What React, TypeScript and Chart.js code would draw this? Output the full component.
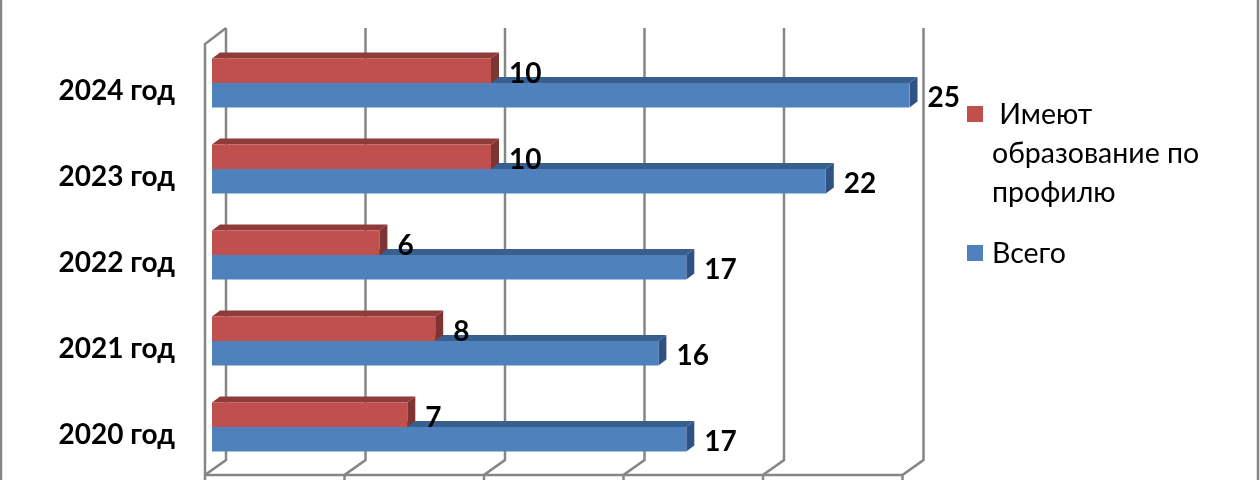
import { Chart, registerables, type Plugin } from 'chart.js';
import { useEffect, useRef } from 'react';

Chart.register(...registerables);

const years = ['2024 год', '2023 год', '2022 год', '2021 год', '2020 год'];
const profileValues = [10, 10, 6, 8, 7];
const totalValues = [25, 22, 17, 16, 17];
const profileLines = [' Имеют', 'образование по', 'профилю'];
const totalLabel = 'Всего';

const FONT = 'Lato, "Open Sans", sans-serif';
const GRID = '#868686';
const faces = [
  { front: '#C0504D', top: '#8F3B39', side: '#7E3432' },
  { front: '#4F81BD', top: '#37608F', side: '#2F5285' },
];

// bars are extruded by this much, walls sit either side of the bar start
const DEPTH_X = 8;
const DEPTH_Y = 6;
const WALL_FRONT = -7;
const WALL_BACK = 14;
const WALL_TOP = 28;
const WALL_BOTTOM = 460;
const FLOOR = 475;

const wallPlugin: Plugin = {
  id: 'wall',
  beforeDatasetsDraw(c) {
    const ctx = c.ctx;
    const x = c.scales.x;
    ctx.save();
    ctx.strokeStyle = GRID;
    ctx.lineWidth = 2.5;
    const line = (pts: number[][]) => {
      ctx.beginPath();
      pts.forEach((p, i) => (i ? ctx.lineTo(p[0], p[1]) : ctx.moveTo(p[0], p[1])));
      ctx.stroke();
    };
    // frame of the picture
    line([[1, 0], [1, 480]]);
    line([[1258, 0], [1258, 480]]);
    const zero = x.getPixelForValue(0);
    const end = x.getPixelForValue(25);
    line([[zero + WALL_FRONT, FLOOR], [zero + WALL_FRONT, 44], [zero + WALL_BACK, WALL_TOP]]);
    line([[zero + WALL_FRONT, FLOOR], [end + WALL_FRONT, FLOOR]]);
    x.ticks.forEach((t) => {
      const px = x.getPixelForValue(t.value);
      line([[px + WALL_FRONT, 480], [px + WALL_FRONT, FLOOR], [px + WALL_BACK, WALL_BOTTOM], [px + WALL_BACK, WALL_TOP]]);
    });
    ctx.restore();

    // top and side faces, lower series first so red stands in front of the blue top
    for (let d = c.data.datasets.length - 1; d >= 0; d--) {
      c.getDatasetMeta(d).data.forEach((el) => {
        const bar = el as unknown as { x: number; y: number; base: number; height: number };
        const top = bar.y - bar.height / 2;
        const bottom = bar.y + bar.height / 2;
        ctx.fillStyle = faces[d].top;
        ctx.beginPath();
        ctx.moveTo(bar.base, top);
        ctx.lineTo(bar.x, top);
        ctx.lineTo(bar.x + DEPTH_X, top - DEPTH_Y);
        ctx.lineTo(bar.base + DEPTH_X, top - DEPTH_Y);
        ctx.closePath();
        ctx.fill();
        ctx.fillStyle = faces[d].side;
        ctx.beginPath();
        ctx.moveTo(bar.x, top);
        ctx.lineTo(bar.x + DEPTH_X, top - DEPTH_Y);
        ctx.lineTo(bar.x + DEPTH_X, bottom - DEPTH_Y);
        ctx.lineTo(bar.x, bottom);
        ctx.closePath();
        ctx.fill();
      });
    }
  },
};

const valueLabelPlugin: Plugin = {
  id: 'valueLabels',
  afterDatasetsDraw(c) {
    const ctx = c.ctx;
    ctx.save();
    ctx.fillStyle = '#000';
    ctx.font = `bold 28px ${FONT}`;
    ctx.textAlign = 'left';
    ctx.textBaseline = 'middle';
    c.data.datasets.forEach((ds, d) => {
      c.getDatasetMeta(d).data.forEach((el, i) => {
        ctx.fillText(String(ds.data[i]), el.x + 18, el.y + 3);
      });
    });
    ctx.restore();
  },
};

function LegendRow({ color, lines, top }: { color: string; lines: string[]; top: number }) {
  return (
    <div style={{ position: 'absolute', left: 967, top, fontFamily: FONT, fontSize: 28.5, lineHeight: '39px', color: '#000' }}>
      <span style={{ position: 'absolute', left: 0, top: 12, width: 16, height: 16, background: color }} />
      {lines.map((l) => (
        <div key={l} style={{ paddingLeft: 25, whiteSpace: 'pre' }}>{l}</div>
      ))}
    </div>
  );
}

export default function App() {
  const canvasRef = useRef<HTMLCanvasElement>(null);

  useEffect(() => {
    const canvas = canvasRef.current;
    if (!canvas) return;
    const chart = new Chart(canvas, {
      type: 'bar',
      data: {
        labels: years,
        datasets: [
          { label: 'Имеют образование по профилю', data: profileValues, backgroundColor: faces[0].front },
          { label: totalLabel, data: totalValues, backgroundColor: faces[1].front },
        ],
      },
      options: {
        indexAxis: 'y',
        responsive: false,
        animation: false,
        layout: { padding: { top: 40, bottom: 10, left: 0, right: 350.5 } },
        datasets: { bar: { categoryPercentage: 0.57, barPercentage: 1 } },
        plugins: { legend: { display: false }, tooltip: { enabled: false } },
        scales: {
          x: { min: 0, max: 25, display: false, ticks: { stepSize: 5, display: false }, grid: { display: false } },
          y: {
            afterFit: (s) => { s.width = 212; },
            // ticks.padding also widens the vertical margins, so the gap comes from tickLength
            grid: { display: false, tickLength: 37 },
            border: { display: false },
            ticks: {
              color: '#000',
              // small lineHeight keeps the last label from pushing the bottom margin
              font: { family: FONT, size: 28, weight: 'bold', lineHeight: 0.7 },
              padding: 0,
              labelOffset: 8,
            },
          },
        },
      },
      plugins: [wallPlugin, valueLabelPlugin],
    });
    return () => chart.destroy();
  }, []);

  return (
    <div style={{ position: 'fixed', left: 0, top: 0, width: 1260, height: 480, background: '#fff', overflow: 'hidden', filter: 'blur(0.5px)' }}>
      <canvas ref={canvasRef} width={1260} height={480} style={{ display: 'block' }} />
      <LegendRow color={faces[0].front} lines={profileLines} top={94} />
      <LegendRow color={faces[1].front} lines={[totalLabel]} top={233} />
    </div>
  );
}
